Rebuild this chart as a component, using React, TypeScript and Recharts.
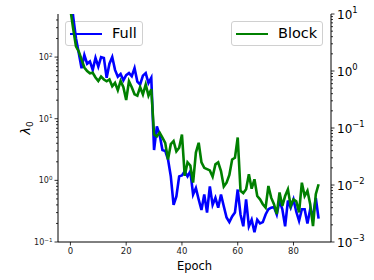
import React from 'react';
import { ComposedChart, Line, XAxis, YAxis } from 'recharts';

// lambda_0 per epoch (log scale)
const fullLoss = [
  1200, 450, 200, 117, 66, 108, 78, 85, 62, 97,
  70, 100, 97, 46, 78, 100, 62, 48, 53, 42,
  51, 55, 49, 66, 40, 36, 50, 55, 38, 46,
  3.1, 7.5, 5.5, 3.1, 3.0, 2.2, 1.16, 0.4, 0.55, 1.16,
  1.2, 1.4, 1.16, 1.4, 0.59, 0.75, 0.49, 0.33, 0.59, 0.3,
  0.8, 0.4, 0.52, 0.36, 0.59, 0.38, 0.25, 0.21, 0.26, 0.3,
  0.71, 0.28, 0.18, 0.49, 0.18, 0.23, 0.144, 0.23, 0.2, 0.21,
  0.28, 0.34, 0.36, 0.37, 0.28, 0.47, 0.34, 0.18, 0.47, 0.36,
  0.49, 0.31, 0.22, 0.34, 0.34, 0.2, 0.34, 0.26, 0.52, 0.24,
];

const blockLoss = [
  12, 5.5, 2.7, 2.2, 1.6, 1.15, 1.0, 0.91, 0.93, 0.77,
  0.67, 0.8, 0.71, 0.66, 0.71, 0.54, 0.62, 0.46, 0.67, 0.52,
  0.31, 0.66, 0.52, 0.39, 0.37, 0.52, 0.39, 0.58, 0.37, 0.48,
  0.077, 0.071, 0.083, 0.068, 0.055, 0.028, 0.052, 0.059, 0.039, 0.045,
  0.077, 0.0145, 0.025, 0.022, 0.011, 0.037, 0.055, 0.025, 0.02, 0.019,
  0.018, 0.014, 0.023, 0.025, 0.0176, 0.0094, 0.011, 0.015, 0.028, 0.03,
  0.068, 0.0079, 0.0072, 0.0084, 0.0154, 0.0086, 0.0126, 0.0064, 0.0056, 0.0046,
  0.004, 0.0096, 0.006, 0.0046, 0.0031, 0.0074, 0.0043, 0.0064, 0.0084, 0.0043,
  0.0056, 0.0052, 0.0033, 0.011, 0.0064, 0.0079, 0.0046, 0.0019, 0.0069, 0.0103,
];

const xTicks = [0, 20, 40, 60, 80];
const leftMajor = [0.1, 1, 10, 100];
const leftTicks = [
  0.1, 0.2, 0.3, 0.4, 0.5, 0.6, 0.7, 0.8, 0.9,
  1, 2, 3, 4, 5, 6, 7, 8, 9,
  10, 20, 30, 40, 50, 60, 70, 80, 90,
  100, 200, 300, 400,
];
const rightMajor = [0.001, 0.01, 0.1, 1, 10];
const rightTicks = [
  0.001, 0.002, 0.003, 0.004, 0.005, 0.006, 0.007, 0.008, 0.009,
  0.01, 0.02, 0.03, 0.04, 0.05, 0.06, 0.07, 0.08, 0.09,
  0.1, 0.2, 0.3, 0.4, 0.5, 0.6, 0.7, 0.8, 0.9,
  1, 2, 3, 4, 5, 6, 7, 8, 9,
  10,
];

const data = fullLoss.map((v, i) => ({ epoch: i, full: v, block: blockLoss[i] }));

const FONT = '"DejaVu Sans", sans-serif';

const expo = (v: number) => {
  const e = Math.round(Math.log10(v));
  return e < 0 ? '\u2212' + -e : String(e);
};

function LeftTick(props: any) {
  const { x, y, payload } = props;
  const major = leftMajor.includes(payload.value);
  return (
    <g>
      <line x1={x} x2={x - (major ? 3.5 : 2)} y1={y} y2={y} stroke="#000" strokeWidth={0.8} />
      {major && (
        <text x={x - 5.5} y={y + 3} textAnchor="end" fontSize={8} fill="#222" fontFamily={FONT}>
          10<tspan dy={-3.5} fontSize={5.6}>{expo(payload.value)}</tspan>
        </text>
      )}
    </g>
  );
}

function RightTick(props: any) {
  const { x, y, payload } = props;
  const major = rightMajor.includes(payload.value);
  return (
    <g>
      <line x1={x} x2={x + (major ? 3.5 : 2)} y1={y} y2={y} stroke="#000" strokeWidth={0.8} />
      {major && (
        <text x={x + 6} y={y + 4.5} textAnchor="start" fontSize={12} fill="#000" fontFamily={FONT}>
          10<tspan dy={-5.5} fontSize={8.4}>{expo(payload.value)}</tspan>
        </text>
      )}
    </g>
  );
}

function BottomTick(props: any) {
  const { x, y, payload } = props;
  return (
    <g>
      <line x1={x} x2={x} y1={y} y2={y + 3.5} stroke="#000" strokeWidth={0.8} />
      <text x={x} y={y + 12} textAnchor="middle" fontSize={8.5} fill="#222" fontFamily={FONT}>
        {payload.value}
      </text>
    </g>
  );
}

function LambdaLabel(props: any) {
  const { viewBox } = props;
  const cx = viewBox.x + 30;
  const cy = viewBox.y + viewBox.height / 2;
  return (
    <text x={cx} y={cy} transform={`rotate(-90 ${cx} ${cy})`} textAnchor="middle" fontSize={13} fontFamily={FONT} fill="#000">
      <tspan fontStyle="italic">λ</tspan><tspan dy={3} fontSize={9}>0</tspan>
    </text>
  );
}

function EpochLabel(props: any) {
  const { viewBox } = props;
  return (
    <text x={viewBox.x + viewBox.width / 2} y={viewBox.y + 28} textAnchor="middle" fontSize={11.5} fontFamily={FONT} fill="#000">
      Epoch
    </text>
  );
}

const legendBox: React.CSSProperties = {
  position: 'absolute',
  top: 21,
  height: 25,
  boxSizing: 'border-box',
  border: '1px solid #d0d0d0',
  borderRadius: 3,
  background: 'rgba(255,255,255,0.8)',
  fontFamily: FONT,
  fontSize: 14.5,
};

function LegendItem({ left, width, color, text }: { left: number; width: number; color: string; text: string }) {
  return (
    <div style={{ ...legendBox, left, width }}>
      <div style={{ position: 'absolute', left: 4, top: 10.5, width: 32, height: 2.6, background: color }} />
      <div style={{ position: 'absolute', left: 46, top: 2, lineHeight: '18px' }}>{text}</div>
    </div>
  );
}

export default function App() {
  return (
    <div style={{ position: 'relative', width: 374, height: 280, background: '#fff' }}>
      <style>{'body{margin:0}'}</style>
      <LegendItem left={65} width={78} color="#0000ff" text="Full" />
      <ComposedChart width={374} height={280} data={data} margin={{ top: 14, right: 0, bottom: 0, left: 0 }}>
        <XAxis
          dataKey="epoch"
          type="number"
          domain={[-4.45, 93.45]}
          allowDataOverflow
          ticks={xTicks}
          interval={0}
          tickSize={0}
          tickMargin={0}
          tick={<BottomTick />}
          height={38}
          stroke="#000"
          label={<EpochLabel />}
        />
        <XAxis
          xAxisId="top"
          orientation="top"
          dataKey="epoch"
          type="number"
          domain={[-4.45, 93.45]}
          allowDataOverflow
          height={0}
          tick={false}
          tickLine={false}
          stroke="#000"
        />
        <YAxis
          yAxisId="left"
          scale="log"
          domain={[0.1, 500]}
          allowDataOverflow
          ticks={leftTicks}
          interval={0}
          tickSize={0}
          tickMargin={0}
          tick={<LeftTick />}
          width={58}
          stroke="#000"
          label={<LambdaLabel />}
        />
        <YAxis
          yAxisId="right"
          orientation="right"
          scale="log"
          domain={[0.001, 10]}
          allowDataOverflow
          ticks={rightTicks}
          interval={0}
          tickSize={0}
          tickMargin={0}
          tick={<RightTick />}
          width={43}
          stroke="#000"
        />
        <Line
          yAxisId="left"
          type="linear"
          dataKey="full"
          stroke="#0000ff"
          strokeWidth={2.6}
          dot={false}
          activeDot={false}
          isAnimationActive={false}
        />
        <Line
          yAxisId="right"
          type="linear"
          dataKey="block"
          stroke="#008000"
          strokeWidth={2.6}
          dot={false}
          activeDot={false}
          isAnimationActive={false}
        />
      </ComposedChart>
      <LegendItem left={231} width={92} color="#008000" text="Block" />
    </div>
  );
}
